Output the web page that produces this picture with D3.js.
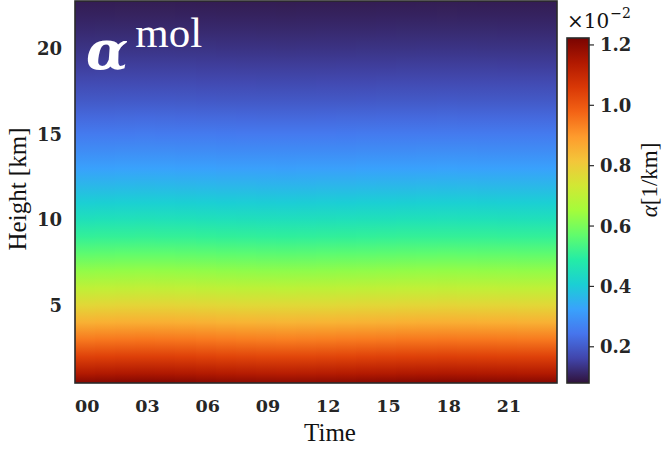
<!DOCTYPE html>
<html><head><meta charset="utf-8">
<script src="https://cdn.jsdelivr.net/npm/d3@7"></script>
<style>body{margin:0;background:#fff}svg{display:block}</style>
</head><body>
<svg id="c" width="663" height="451"></svg>
<script>
// ---- data ----
const heightKm = [0.4,1,2,3,4,5,6,7,8,9,10,11,12,13,14,15,16,17,18,19,20,21,22,23];
// molecular extinction profile, units of 1e-2 1/km
const alphaMol = [1.21,1.14,1.04,0.945,0.855,0.775,0.700,0.630,0.566,0.508,0.455,0.407,0.363,0.323,0.287,0.254,0.223,0.195,0.171,0.151,0.134,0.119,0.106,0.095];
const timeHours = [0,1,2,3,4,5,6,7,8,9,10,11,12,13,14,15,16,17,18,19,20,21,22,23];
// small diurnal change of the profile, one per hour
const dayFactor = [1.000,1.002,1.004,1.005,1.004,1.002,0.999,0.996,0.994,0.992,0.991,0.992,0.994,0.996,0.998,1.000,1.002,1.003,1.004,1.003,1.002,1.001,1.000,1.000];
const xTickValues = [0,3,6,9,12,15,18,21];
const xTickLabels = ["00","03","06","09","12","15","18","21"];
const yTickValues = [5,10,15,20];
const cbTickValues = [0.2,0.4,0.6,0.8,1.0,1.2];
const turboColors = ['#30123b','#4145ab','#4675ed','#39a2fc','#1bcfd4','#24eca6','#61fc6c','#a4fc3b','#d1e834','#f3c63a','#fe9b2d','#f36315','#d93806','#b11901','#7a0402'];
const cRange = [0.08, 1.223];

// ---- layout ----
const P = {l:75, r:557, t:1, b:383};
const CB = {l:567, r:589, t:38, b:383};
const svg = d3.select('#c');
const x = d3.scaleLinear().domain([0,24]).range([P.l,P.r]);
const y = d3.scaleLinear().domain([0.44,22.8]).range([P.b,P.t]);
const cy = d3.scaleLinear().domain(cRange).range([CB.b,CB.t]);
const tNorm = d3.scaleLinear().domain(cRange).range([0,1]).clamp(true);
const turbo = d3.scaleLinear().domain(turboColors.map((_,i)=>i/(turboColors.length-1))).range(turboColors).interpolate(d3.interpolateRgb);
const color = v => turbo(tNorm(v));

const defs = svg.append('defs');
defs.append('clipPath').attr('id','pc').append('rect')
  .attr('x',P.l).attr('y',P.t).attr('width',P.r-P.l).attr('height',P.b-P.t);

// gradients run top -> bottom, so stops go from highest to lowest height
const order = d3.range(heightKm.length).reverse();
const yTop = y(heightKm[heightKm.length-1]), yBot = y(heightKm[0]);
timeHours.forEach((t,i)=>{
  const g = defs.append('linearGradient').attr('id','g'+i)
    .attr('gradientUnits','userSpaceOnUse')
    .attr('x1',0).attr('x2',0).attr('y1',yTop).attr('y2',yBot);
  order.forEach(j=>{
    g.append('stop').attr('offset',(y(heightKm[j])-yTop)/(yBot-yTop))
      .attr('stop-color',color(alphaMol[j]*dayFactor[i]));
  });
});
const gHeat = svg.append('g').attr('clip-path','url(#pc)');
gHeat.selectAll('rect').data(timeHours).join('rect')
  .attr('x',d=>Math.round(x(d))).attr('y',P.t)
  .attr('width',d=>Math.round(x(d+1))-Math.round(x(d))+1).attr('height',P.b-P.t)
  .attr('shape-rendering','crispEdges')
  .attr('fill',(d,i)=>'url(#g'+i+')');

svg.append('rect').attr('x',P.l).attr('y',P.t).attr('width',P.r-P.l).attr('height',P.b-P.t)
  .attr('fill','none').attr('stroke','#2a2a2a').attr('stroke-width',1.6);

const tickFont = "'DejaVu Serif', serif";
// y tick labels
svg.append('g').selectAll('text').data(yTickValues).join('text')
  .attr('x',62).attr('y',d=>y(d)).attr('dy','0.36em')
  .attr('text-anchor','end').attr('font-family',tickFont).attr('font-weight','bold')
  .attr('font-size',18).attr('fill','#262626').text(d=>d);
// x tick labels (left aligned at tick)
svg.append('g').selectAll('text').data(xTickValues).join('text')
  .attr('x',d=>x(d)).attr('y',412)
  .attr('text-anchor','start').attr('font-family',tickFont).attr('font-weight','bold')
  .attr('font-size',17.5).attr('fill','#262626').text((d,i)=>xTickLabels[i]);

// axis labels
svg.append('text').attr('x',330).attr('y',441).attr('text-anchor','middle')
  .attr('font-family',"'Liberation Serif', serif").attr('font-size',25).attr('fill','#111').text('Time');
svg.append('text').attr('transform','translate(26,189) rotate(-90)').attr('text-anchor','middle')
  .attr('font-family',"'Liberation Serif', serif").attr('font-size',25).attr('fill','#111').text('Height [km]');

// panel title alpha^mol
const ttl = svg.append('text').attr('x',86).attr('y',69).attr('fill','#fff')
  .attr('font-family',"'DejaVu Serif', serif");
ttl.append('tspan').attr('font-size',55).attr('font-weight','bold').attr('font-style','italic').text('α');
ttl.append('tspan').attr('font-size',43).attr('font-family',"'Liberation Serif', serif").attr('dy',-22).attr('dx',7).text('mol');

// colorbar
const cbGrad = defs.append('linearGradient').attr('id','cbg')
  .attr('x1',0).attr('x2',0).attr('y1',1).attr('y2',0);
turboColors.forEach((c,i)=>cbGrad.append('stop').attr('offset',i/(turboColors.length-1)).attr('stop-color',c));
svg.append('rect').attr('x',CB.l).attr('y',CB.t).attr('width',CB.r-CB.l).attr('height',CB.b-CB.t)
  .attr('fill','url(#cbg)').attr('stroke','#2a2a2a').attr('stroke-width',1.6);
const cbAxis = svg.append('g');
cbAxis.selectAll('line').data(cbTickValues).join('line')
  .attr('x1',CB.r).attr('x2',CB.r+5).attr('y1',d=>cy(d)).attr('y2',d=>cy(d))
  .attr('stroke','#2a2a2a').attr('stroke-width',1.2);
cbAxis.selectAll('text').data(cbTickValues).join('text')
  .attr('x',600).attr('y',d=>cy(d)).attr('dy','0.36em')
  .attr('font-family',tickFont).attr('font-weight','bold').attr('font-size',18).attr('fill','#262626')
  .text(d=>d.toFixed(1));
const ex = svg.append('text').attr('x',567).attr('y',28).attr('font-family',"'DejaVu Serif', serif")
  .attr('font-size',20).attr('fill','#111');
ex.append('tspan').text('×10');
ex.append('tspan').attr('font-size',14).attr('dy',-10).attr('dx',1).text('−2');
const cbl = svg.append('text').attr('transform','translate(657,180) rotate(-90)').attr('text-anchor','middle')
  .attr('font-family',"'Liberation Serif', serif").attr('font-size',23).attr('fill','#111');
cbl.append('tspan').attr('font-style','italic').text('α');
cbl.append('tspan').text('[1/km]');
</script>
</body></html>
